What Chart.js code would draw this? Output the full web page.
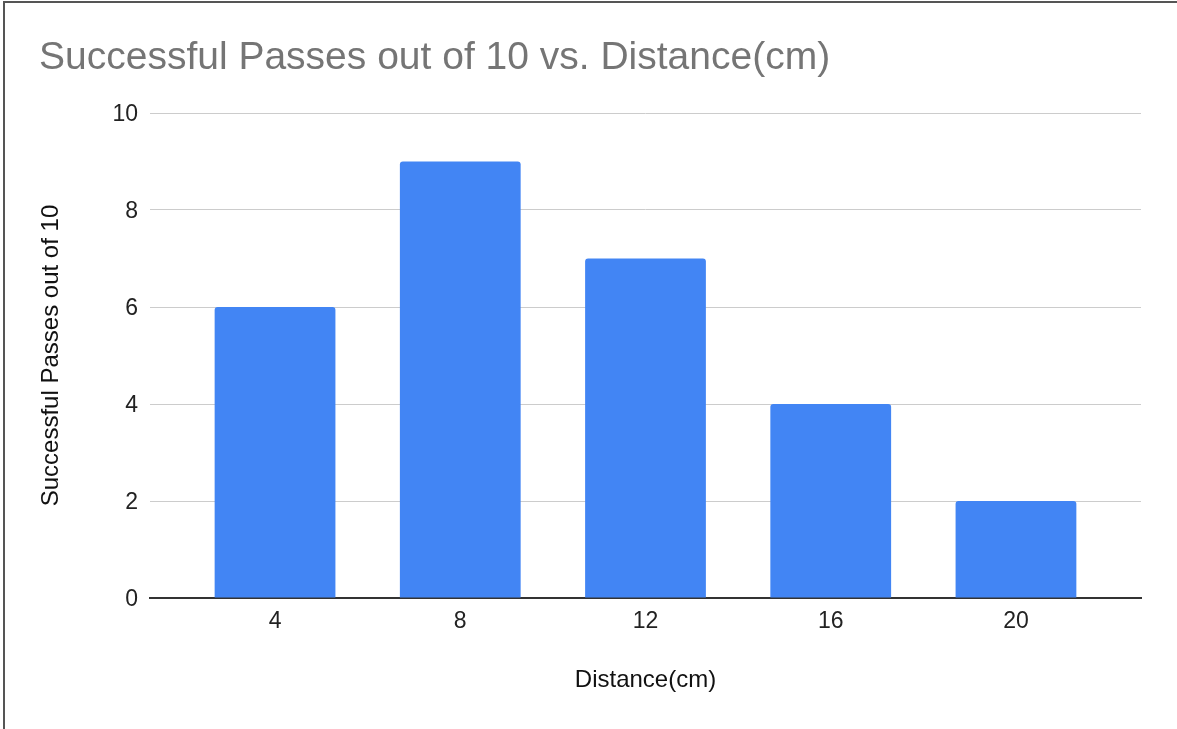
<!DOCTYPE html>
<html>
<head>
<meta charset="utf-8">
<script src="https://cdn.jsdelivr.net/npm/chart.js@4"></script>
<style>
  html, body { margin: 0; padding: 0; background: #fff; overflow: hidden; }
  #wrap { position: relative; width: 1177px; height: 729px; }
  #frame {
    position: absolute; left: 3px; top: 1px; width: 1180px; height: 800px;
    border-left: 2px solid #555; border-top: 2px solid #555;
    pointer-events: none; box-sizing: border-box;
  }
  canvas { position: absolute; left: 0; top: 0; }
</style>
</head>
<body>
<div id="wrap">
  <canvas id="chart" width="1177" height="729"></canvas>
  <div id="frame"></div>
</div>
<script>
// Distance in cm and the number of successful passes (out of 10) at each distance
const distances = [4, 8, 12, 16, 20];
const passes = [6, 9, 7, 4, 2];
const yTicks = [0, 2, 4, 6, 8, 10];

const FONT = "'Liberation Sans', Arial, Helvetica, sans-serif";

const points = distances.map((d, i) => ({ x: d, y: passes[i] }));

new Chart(document.getElementById('chart'), {
  type: 'bar',
  data: {
    datasets: [{
      label: 'Successful Passes out of 10',
      data: points,
      backgroundColor: '#4285F4',
      borderWidth: 0,
      borderRadius: 3,
      categoryPercentage: 1,
      barPercentage: 0.652
    }]
  },
  options: {
    responsive: false,
    animation: false,
    events: [],
    layout: { padding: { left: 39, right: 36, top: 0, bottom: 30 } },
    plugins: {
      legend: { display: false },
      tooltip: { enabled: false },
      title: {
        display: true,
        text: 'Successful Passes out of 10 vs. Distance(cm)',
        align: 'start',
        color: '#757575',
        font: { family: FONT, size: 39, weight: 'normal', lineHeight: 1.2 },
        padding: { top: 34.6, bottom: 31.6 }
      }
    },
    scales: {
      x: {
        type: 'linear',
        offset: false,
        min: 1.3,
        max: 22.7,
        afterBuildTicks: (scale) => { scale.ticks = distances.map(v => ({ value: v })); },
        afterFit: (scale) => { scale.height = 101; },
        grid: { display: false, drawTicks: false, offset: false },
        border: { display: true, color: '#333', width: 2 },
        ticks: {
          padding: 10,
          color: '#222',
          font: { family: FONT, size: 23 },
          callback: (v) => String(v)
        },
        title: {
          display: true,
          text: 'Distance(cm)',
          color: '#111',
          font: { family: FONT, size: 24, lineHeight: 1 },
          padding: { top: 0, bottom: 7 }
        }
      },
      y: {
        min: 0,
        max: 10,
        afterBuildTicks: (scale) => { scale.ticks = yTicks.map(v => ({ value: v })); },
        afterFit: (scale) => { scale.width = 111; },
        grid: {
          color: (ctx) => ctx.tick && ctx.tick.value === 0 ? 'rgba(0,0,0,0)' : '#cccccc',
          lineWidth: 1,
          drawTicks: false
        },
        border: { display: false },
        ticks: {
          padding: 12,
          labelOffset: 2,
          color: '#222',
          font: { family: FONT, size: 23 }
        },
        title: {
          display: true,
          text: 'Successful Passes out of 10',
          color: '#111',
          font: { family: FONT, size: 24, lineHeight: 1 },
          padding: { top: 0, bottom: 0 }
        }
      }
    }
  }
});
</script>
</body>
</html>
